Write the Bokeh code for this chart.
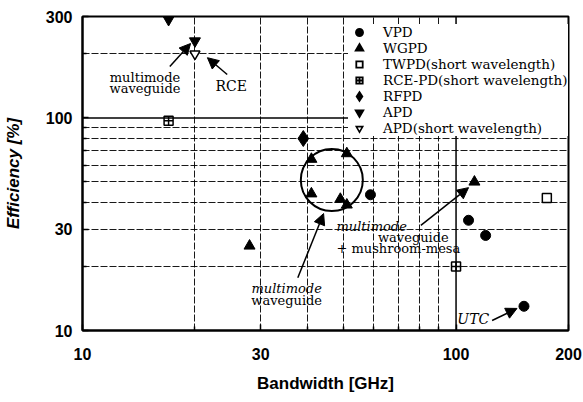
import numpy as np
from bokeh.plotting import figure
from bokeh.models import (FixedTicker, Span, Label, Arrow, NormalHead,
                          Legend, LegendItem, BasicTickFormatter)
from bokeh.embed import file_html
from bokeh.resources import INLINE

# ---- data (bandwidth GHz, efficiency %) ----
vpd_bw = [59, 108, 120, 152]
vpd_eff = [43.5, 33, 28, 13]
wgpd_bw = [28, 41, 51, 41, 49, 51, 112]
wgpd_eff = [25, 64, 68, 44, 41.5, 39, 50]
twpd_bw = [175]
twpd_eff = [42]
rce_bw = [17, 100]
rce_eff = [97, 20]
rfpd_bw = [39]
rfpd_eff = [80]
apd_bw = [17, 20]
apd_eff = [290, 230]
apds_bw = [20]
apds_eff = [200]

x_major = [10, 30, 100, 200]
x_minor = [20, 40, 50, 60, 70, 80, 90]
y_major = [10, 30, 100, 300]
y_minor = [20, 40, 50, 60, 70, 80, 90, 200]
x_grid = [20, 30, 40, 50, 60, 70, 80, 90]
y_grid = [20, 30, 40, 50, 60, 70, 80, 90, 200]

SANS = "Liberation Sans"
SERIF = "DejaVu Serif"

p = figure(width=582, height=400, x_axis_type="log", y_axis_type="log",
           x_range=(10, 200), y_range=(10, 300),
           x_axis_label="Bandwidth [GHz]", y_axis_label="Efficiency [%]",
           output_backend="svg", toolbar_location=None,
           min_border_left=82, min_border_right=14, min_border_top=16,
           min_border_bottom=70)
p.outline_line_color = "black"
p.outline_line_width = 2

# grids
p.xgrid.ticker = FixedTicker(ticks=x_grid)
p.ygrid.ticker = FixedTicker(ticks=y_grid)
for g in (p.xgrid, p.ygrid):
    g.grid_line_color = "black"
    g.grid_line_dash = "7 2"
    g.grid_line_width = 1
    g.grid_line_alpha = 0.9
p.add_layout(Span(location=100, dimension="height", line_color="black", line_width=1.5))
p.add_layout(Span(location=100, dimension="width", line_color="black", line_width=1.5))

# axes
for ax in (p.xaxis[0], p.yaxis[0]):
    ax.axis_line_color = "black"
    ax.axis_line_width = 2
    ax.major_tick_in = 6
    ax.major_tick_out = 0
    ax.minor_tick_in = 4
    ax.minor_tick_out = 0
    ax.major_tick_line_width = 1.5
    ax.minor_tick_line_width = 1.5
    ax.formatter = BasicTickFormatter()
    ax.major_label_text_font = SANS
    ax.major_label_text_font_style = "bold"
    ax.major_label_text_font_size = "16px"
    ax.major_label_text_color = "black"
    ax.axis_label_text_font = SANS
    ax.axis_label_text_font_size = "17px"
    ax.axis_label_text_color = "black"
p.xaxis.ticker = FixedTicker(ticks=x_major, minor_ticks=x_minor)
p.yaxis.ticker = FixedTicker(ticks=y_major, minor_ticks=y_minor)
p.xaxis.major_label_standoff = 17
p.yaxis.major_label_standoff = 10
p.xaxis.axis_label_text_font_style = "bold"
p.yaxis.axis_label_text_font_style = "bold italic"
p.xaxis.axis_label_standoff = 11
p.yaxis.axis_label_standoff = 20

# data
r_vpd = p.scatter(vpd_bw, vpd_eff, marker="circle", size=10, color="black")
r_wgpd = p.scatter(wgpd_bw, wgpd_eff, marker="triangle", size=11, color="black")
r_twpd = p.scatter(twpd_bw, twpd_eff, marker="square", size=9, fill_color="white",
                   line_color="black", line_width=1.5)
r_rce = p.scatter(rce_bw, rce_eff, marker="square_cross", size=9, fill_color="white",
                  line_color="black", line_width=1.5)
r_rfpd = p.scatter(rfpd_bw, rfpd_eff, marker="diamond", size=16, color="black")
r_apd = p.scatter(apd_bw, apd_eff, marker="inverted_triangle", size=11, color="black")
r_apds = p.scatter(apds_bw, apds_eff, marker="inverted_triangle", size=10,
                   fill_color="white", line_color="black", line_width=1.5)

# circled group
circle_x, circle_y = [46.5], [51]
p.scatter(circle_x, circle_y, marker="circle", size=62, fill_color=None,
          line_color="black", line_width=2)

def lab(x, y, t, style="normal", align="center", size="13px"):
    p.add_layout(Label(x=x, y=y, text=t, text_align=align, text_baseline="middle",
                       text_font=SERIF, text_font_style=style,
                       text_font_size=size, text_color="black"))

def arr(x0, y0, x1, y1):
    p.add_layout(Arrow(end=NormalHead(size=11, fill_color="black", line_color="black"),
                       x_start=x0, y_start=y0, x_end=x1, y_end=y1,
                       line_color="black", line_width=1.5))

lab(14.7, 155, "multimode")
lab(14.7, 137.5, "waveguide")
arr(17.13, 174.6, 19.47, 223.9)
lab(25.0, 142, "RCE", size="14px")
arr(24.4, 160, 21.6, 192)

lab(35.2, 15.8, "multimode", style="italic")
lab(35.2, 13.8, "waveguide")
arr(37.7, 17.7, 44.2, 35.5)

lab(47.85, 30.85, "multimode", style="italic", align="left")
lab(61.8, 27.39, "waveguide", align="left")
lab(47.85, 24.31, "+ mushroom-mesa", align="left")
arr(80.5, 31.2, 108, 47)

lab(111.2, 11.27, "UTC", style="italic", size="14px")
arr(124.9, 11.15, 145.6, 12.7)

# legend proxies: one NaN point each, so they show only in the legend
nan = np.array([np.nan])
def proxy(marker, filled, lw):
    return p.scatter(nan, nan, marker=marker, size=10,
                     fill_color="black" if filled else "white",
                     line_color="black", line_width=lw, line_join="miter")

items = [
    ("VPD", proxy("circle", True, 2.5)),
    ("WGPD", proxy("triangle", True, 2.5)),
    ("TWPD(short wavelength)", proxy("square", False, 1.8)),
    ("RCE-PD(short wavelength)", proxy("square_cross", False, 1.8)),
    ("RFPD", proxy("diamond", True, 3)),
    ("APD", proxy("inverted_triangle", True, 2.5)),
    ("APD(short wavelength)", proxy("inverted_triangle", False, 1.6)),
]
legend = Legend(items=[LegendItem(label=l, renderers=[r]) for l, r in items],
                location=(266, 194))
legend.label_text_font = SERIF
legend.label_text_font_size = "13.5px"
legend.label_text_color = "black"
legend.label_height = 16
legend.glyph_height = 16
legend.glyph_width = 22
legend.label_standoff = 13
legend.spacing = 0
legend.padding = 4
legend.border_line_color = None
legend.background_fill_color = "white"
legend.background_fill_alpha = 1
p.add_layout(legend)

open("out.html", "w").write(file_html(p, INLINE))
